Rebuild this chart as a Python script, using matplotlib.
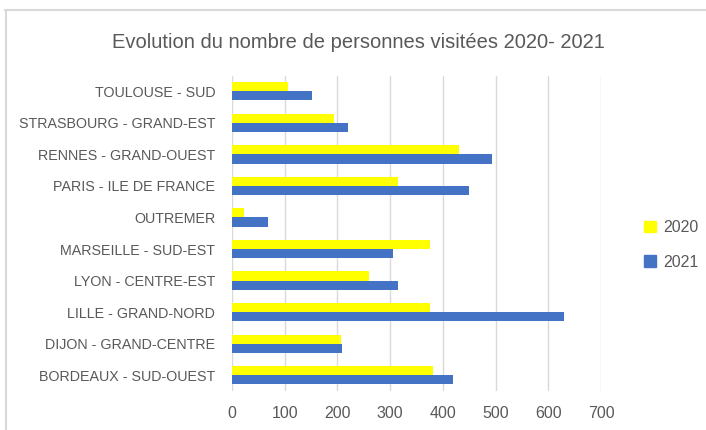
import numpy as np
from matplotlib import pyplot as plt
from matplotlib.lines import Line2D
from matplotlib.patches import Patch

plt.rcParams["font.family"] = ["Liberation Sans", "DejaVu Sans"]

# data, bottom to top
regions = [
    "BORDEAUX - SUD-OUEST",
    "DIJON - GRAND-CENTRE",
    "LILLE - GRAND-NORD",
    "LYON - CENTRE-EST",
    "MARSEILLE - SUD-EST",
    "OUTREMER",
    "PARIS - ILE DE FRANCE",
    "RENNES - GRAND-OUEST",
    "STRASBOURG - GRAND-EST",
    "TOULOUSE - SUD",
]
visits_2020 = [382, 207, 375, 260, 376, 23, 315, 431, 193, 106]
visits_2021 = [420, 208, 629, 314, 306, 68, 450, 493, 221, 151]
x_ticks = [0, 100, 200, 300, 400, 500, 600, 700]

text_grey = "#595959"
yellow = "#FFFF00"
blue = "#4472C4"

fig = plt.figure(figsize=(7.06, 4.30), dpi=100)
ax = fig.add_axes([232 / 706, 1 - 391 / 430, 369 / 706, 315.5 / 430])

y = np.arange(len(regions))
h = 0.29
ax.barh(y + h / 2, visits_2020, height=h, color=yellow, label="2020", zorder=3)
ax.barh(y - h / 2, visits_2021, height=h, color=blue, label="2021", zorder=3)

ax.set_xlim(0, 700)
ax.set_ylim(-0.5, len(regions) - 0.5)
ax.set_xticks(x_ticks)
ax.set_yticks(y)
ax.set_yticklabels(regions)
ax.tick_params(axis="x", length=0, colors=text_grey, labelsize=11.5, pad=11)
ax.tick_params(axis="y", length=0, colors=text_grey, labelsize=10.3, pad=12)
ax.grid(axis="x", color="#d9d9d9", linewidth=1, zorder=0)
for s in ax.spines.values():
    s.set_visible(False)

fig.text(358 / 706, 1 - 42 / 430, "Evolution du nombre de personnes visitées 2020- 2021",
         ha="center", va="center", fontsize=14.5, color=text_grey)

handles = [Patch(color=yellow), Patch(color=blue)]
fig.legend(handles, ["2020", "2021"], loc="center left",
           bbox_to_anchor=(630 / 706, 1 - 245 / 430), frameon=False,
           fontsize=11.5, labelcolor=text_grey, handlelength=0.7, handleheight=0.7,
           handletextpad=0.5, labelspacing=1.2)

# chart frame (top and left edges visible)
fig.add_artist(Line2D([5 / 706, 1], [1 - 9.5 / 430] * 2, color="#d9d9d9", lw=1.5))
fig.add_artist(Line2D([5.5 / 706] * 2, [0, 1 - 9.5 / 430], color="#d9d9d9", lw=1.5))

fig.savefig("out.png", dpi=100)
